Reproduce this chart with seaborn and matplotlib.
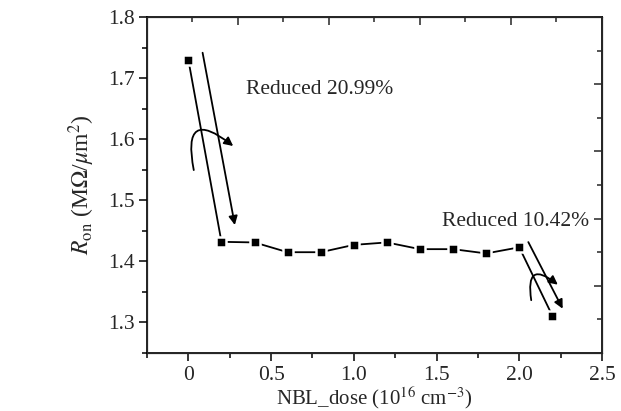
import numpy as np
import pandas as pd
import matplotlib
matplotlib.use("Agg")
import matplotlib.pyplot as plt
import seaborn as sns
from matplotlib.ticker import MultipleLocator

# data
nbl_dose = [0.0, 0.2, 0.4, 0.6, 0.8, 1.0, 1.2, 1.4, 1.6, 1.8, 2.0, 2.2]
r_on = [1.730, 1.432, 1.431, 1.415, 1.415, 1.427, 1.431, 1.420, 1.420, 1.413, 1.423, 1.311]
df = pd.DataFrame({"NBL_dose": nbl_dose, "Ron": r_on})

sns.set_style("white")
plt.rcParams["font.family"] = ["Liberation Serif", "DejaVu Serif"]
plt.rcParams["mathtext.fontset"] = "stix"
fs = 15.5

fig, ax = plt.subplots(figsize=(6.21, 4.11), dpi=100)
fig.subplots_adjust(left=0.2367, right=0.9694, top=0.9586, bottom=0.1411)

sns.lineplot(data=df, x="NBL_dose", y="Ron", ax=ax, color="black", linewidth=1.3,
             marker="s", markersize=7.5, markerfacecolor="black",
             markeredgecolor="white", markeredgewidth=1.8)

ax.set_xlim(-0.25, 2.5)
ax.set_ylim(1.25, 1.8)
ax.xaxis.set_minor_locator(MultipleLocator(0.25))
ax.yaxis.set_major_locator(MultipleLocator(0.1))
ax.yaxis.set_minor_locator(MultipleLocator(0.05))
ax.set_xticks([0, 0.5, 1.0, 1.5, 2.0, 2.5])
ax.set_xticklabels(["0", "0.5", "1.0", "1.5", "2.0", "2.5"])
ax.tick_params(which="major", direction="out", length=6, width=1.1, color="black", labelsize=fs)
ax.tick_params(which="minor", direction="out", length=3.5, width=1.1, color="black")
ax.tick_params(axis="x", pad=3)
ax.tick_params(axis="y", pad=3)
for s in ax.spines.values():
    s.set_linewidth(1.2)
    s.set_color("black")

ax.set_xlabel(r"NBL_dose (10$^{16}$ cm$^{-3}$)", fontsize=15, labelpad=0)
ax.set_ylabel(r"$R_{\mathrm{on}}$ (M$\Omega$/$\mu$m$^2$)", fontsize=17, labelpad=8)

# top/right axes with inward ticks, like the original
top = ax.twiny()
right = ax.twinx()
top.set_xlim(0, 1)
right.set_ylim(0, 1)
top.xaxis.set_major_locator(MultipleLocator(0.2))
top.xaxis.set_minor_locator(MultipleLocator(0.1))
right.yaxis.set_major_locator(MultipleLocator(0.2))
right.yaxis.set_minor_locator(MultipleLocator(0.1))
top.tick_params(which="both", direction="in", labeltop=False, width=1.1)
top.tick_params(which="major", length=6)
top.tick_params(which="minor", length=3.5)
right.tick_params(which="both", direction="in", labelright=False, width=1.1)
right.tick_params(which="major", length=6)
right.tick_params(which="minor", length=3.5)

# annotations
arrow = dict(arrowstyle="-|>", color="black", lw=1.3, mutation_scale=13)
ax.annotate("", xy=(0.284, 1.455), xytext=(0.083, 1.746), arrowprops=arrow)
ax.annotate("", xy=(0.284, 1.586), xytext=(0.036, 1.545),
            arrowprops=dict(arrow, connectionstyle="arc3,rad=-1.4"))
ax.text(0.35, 1.681, "Reduced 20.99%", fontsize=fs, va="center", ha="left")

ax.annotate("", xy=(2.27, 1.3185), xytext=(2.047, 1.4356), arrowprops=arrow)
ax.annotate("", xy=(2.246, 1.359), xytext=(2.075, 1.332),
            arrowprops=dict(arrow, connectionstyle="arc3,rad=-1.35"))
ax.text(1.532, 1.4655, "Reduced 10.42%", fontsize=fs, va="center", ha="left")

fig.savefig("out.png", dpi=100)
